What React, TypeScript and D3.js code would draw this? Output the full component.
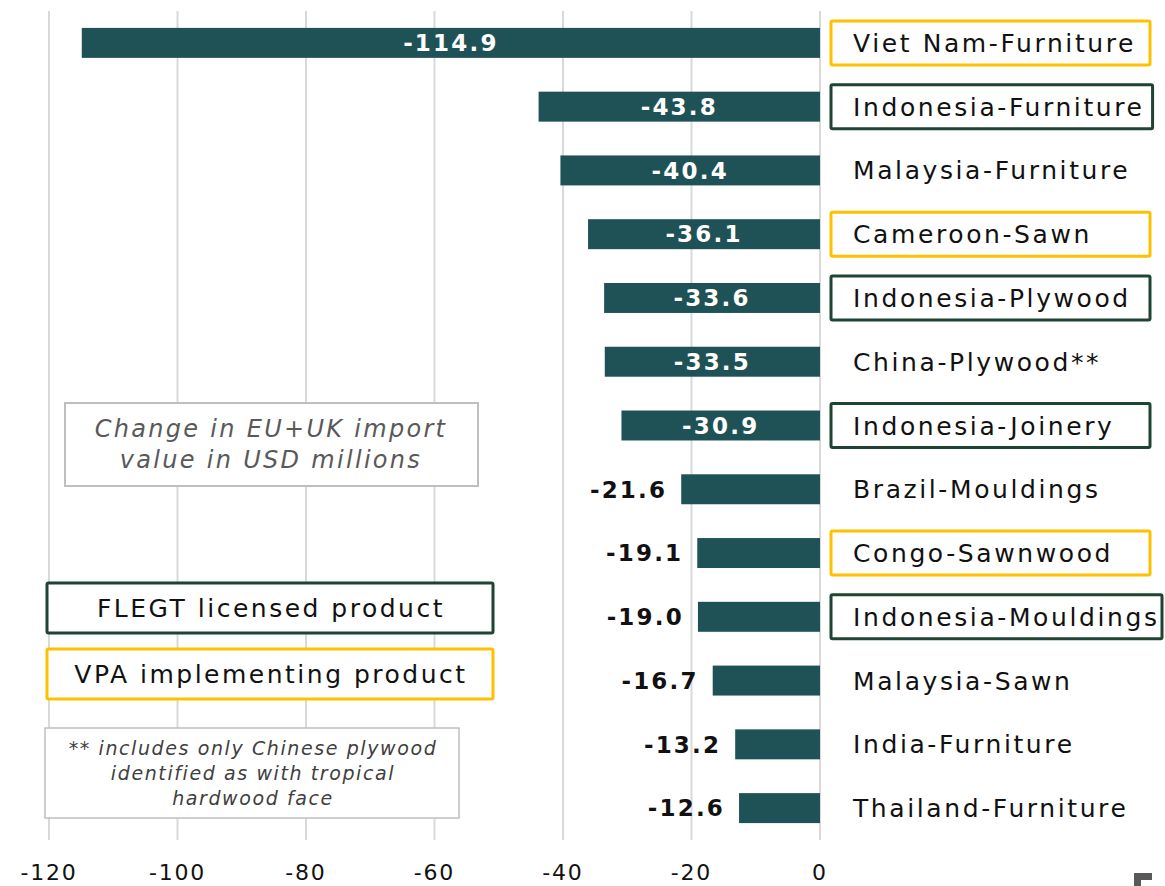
import React, { useEffect, useRef } from "react";
import * as d3 from "d3";

const categories = [
  "Viet Nam-Furniture",
  "Indonesia-Furniture",
  "Malaysia-Furniture",
  "Cameroon-Sawn",
  "Indonesia-Plywood",
  "China-Plywood**",
  "Indonesia-Joinery",
  "Brazil-Mouldings",
  "Congo-Sawnwood",
  "Indonesia-Mouldings",
  "Malaysia-Sawn",
  "India-Furniture",
  "Thailand-Furniture",
];
const values = [-114.9, -43.8, -40.4, -36.1, -33.6, -33.5, -30.9, -21.6, -19.1, -19.0, -16.7, -13.2, -12.6];
// "VPA" = VPA implementing product, "FLEGT" = FLEGT licensed product
const status = ["VPA", "FLEGT", "", "VPA", "FLEGT", "", "FLEGT", "", "VPA", "FLEGT", "", "", ""];
const tickValues = [-120, -100, -80, -60, -40, -20, 0];
const noteLines = ["Change in EU+UK import", "value in USD millions"];
const legendItems = ["FLEGT licensed product", "VPA implementing product"];
const footLines = ["** includes only Chinese plywood", "identified as with tropical", "hardwood face"];

const W = 1165;
const H = 886;
const BAR = "#1F5256";
const GOLD = "#FFC000";
const GREEN = "#1F4433";
const FONT = "'DejaVu Sans', Verdana, sans-serif";

export default function App() {
  const ref = useRef<SVGSVGElement>(null);
  useEffect(() => {
    const svg = d3.select(ref.current);
    svg.selectAll("*").remove();
    const x = d3.scaleLinear().domain([-120, 0]).range([49, 820]);
    const y = d3.scaleBand().domain(categories).range([11, 840]).paddingInner(0.53).paddingOuter(0.265);

    // gridlines
    svg.append("g").selectAll("line").data(tickValues).join("line")
      .attr("x1", (d) => x(d)).attr("x2", (d) => x(d))
      .attr("y1", 11).attr("y2", 840)
      .attr("stroke", "#d9d9d9").attr("stroke-width", 2);

    // tick labels
    svg.append("g").selectAll("text").data(tickValues).join("text")
      .attr("x", (d) => x(d)).attr("y", 880)
      .attr("text-anchor", "middle")
      .style("font-family", FONT).style("font-size", "22px").style("letter-spacing", "1.8px")
      .attr("fill", "#111").text((d) => String(d));

    const data = categories.map((c, i) => ({ c, v: values[i], s: status[i], i }));

    // bars
    svg.append("g").selectAll("rect").data(data).join("rect")
      .attr("x", (d) => x(d.v)).attr("width", (d) => x(0) - x(d.v))
      .attr("y", (d) => y(d.c)!).attr("height", y.bandwidth())
      .attr("fill", BAR);

    // value labels
    svg.append("g").selectAll("text").data(data).join("text")
      .attr("x", (d) => (d.i < 7 ? (x(d.v) + x(0)) / 2 : x(d.v) - 14))
      .attr("y", (d) => y(d.c)! + y.bandwidth() / 2).attr("dy", "0.36em")
      .attr("text-anchor", (d) => (d.i < 7 ? "middle" : "end"))
      .style("font-family", FONT).style("font-size", "23px").style("font-weight", "bold")
      .style("letter-spacing", "2.2px")
      .attr("fill", (d) => (d.i < 7 ? "#fff" : "#111"))
      .text((d) => d.v.toFixed(1));

    // category labels with boxes
    const lg = svg.append("g");
    data.forEach((d) => {
      const cy = y(d.c)! + y.bandwidth() / 2;
      const t = lg.append("text")
        .attr("x", 853).attr("y", cy).attr("dy", "0.36em")
        .style("font-family", FONT).style("font-size", "25px").style("letter-spacing", "2.6px")
        .attr("fill", "#111").text(d.c);
      if (d.s) {
        const len = (t.node() as SVGTextElement).getComputedTextLength();
        const right = Math.min(1162, Math.max(1150, 853 + len + 8));
        lg.insert("rect", "text")
          .attr("x", 831).attr("y", cy - 22).attr("width", right - 831).attr("height", 44)
          .attr("fill", "#fff")
          .attr("stroke", d.s === "VPA" ? GOLD : GREEN).attr("stroke-width", 3)
          .attr("rx", 1.5);
      }
    });

    // note box
    svg.append("rect").attr("x", 65).attr("y", 403).attr("width", 413).attr("height", 83)
      .attr("fill", "#fff").attr("stroke", "#bfbfbf").attr("stroke-width", 2);
    svg.append("g").selectAll("text").data(noteLines).join("text")
      .attr("x", 271).attr("y", (_, i) => 428 + i * 31).attr("dy", "0.36em")
      .attr("text-anchor", "middle")
      .style("font-family", FONT).style("font-size", "24px").style("font-style", "italic")
      .style("letter-spacing", "2.3px")
      .attr("fill", "#595959").text((d) => d);

    // legend boxes
    legendItems.forEach((txt, i) => {
      const cy = 608 + i * 66;
      svg.append("rect").attr("x", 47).attr("y", cy - 25).attr("width", 446).attr("height", 50)
        .attr("fill", "#fff").attr("stroke", i === 0 ? GREEN : GOLD).attr("stroke-width", 3).attr("rx", 1.5);
      svg.append("text").attr("x", 271).attr("y", cy).attr("dy", "0.36em")
        .attr("text-anchor", "middle")
        .style("font-family", FONT).style("font-size", "25px").style("letter-spacing", "2.5px")
        .attr("fill", "#111").text(txt);
    });

    // footnote box
    svg.append("rect").attr("x", 45).attr("y", 728).attr("width", 414).attr("height", 90)
      .attr("fill", "#fff").attr("stroke", "#bfbfbf").attr("stroke-width", 1.5);
    svg.append("g").selectAll("text").data(footLines).join("text")
      .attr("x", 253).attr("y", (_, i) => 748 + i * 25).attr("dy", "0.36em")
      .attr("text-anchor", "middle")
      .style("font-family", FONT).style("font-size", "19px").style("font-style", "italic")
      .style("letter-spacing", "1.6px")
      .attr("fill", "#404040").text((d) => d);

    // small corner mark
    svg.append("path").attr("d", "M1134,873 H1152 V880 H1141 V886 H1134 Z").attr("fill", "#595959");
  }, []);
  return (
    <svg ref={ref} width={W} height={H}
      style={{ position: "absolute", left: 0, top: 0, background: "#fff" }} />
  );
}
